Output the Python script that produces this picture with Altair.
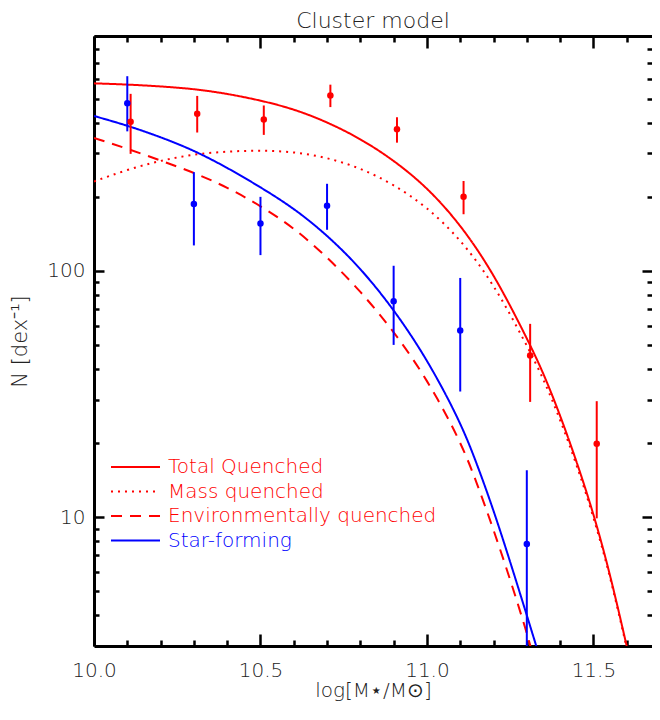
import altair as alt
import pandas as pd

# ---------------- data ----------------
models = ["Total Quenched", "Mass quenched", "Environmentally quenched", "Star-forming"]

tq_x = [10.0, 10.1, 10.2, 10.3, 10.4, 10.5, 10.6, 10.7, 10.8, 10.9, 11.0, 11.1, 11.2, 11.3, 11.35, 11.4, 11.45, 11.5, 11.55, 11.6]
tq_y = [578, 572, 562, 549, 525, 493, 455, 403, 345, 282, 219, 155, 98, 53.5, 38.5, 26, 16.8, 10.4, 5.9, 3.0]

mq_x = [10.0, 10.1, 10.2, 10.3, 10.4, 10.5, 10.6, 10.7, 10.8, 10.9, 11.0, 11.1, 11.2, 11.3, 11.35, 11.4, 11.45, 11.5, 11.55, 11.6]
mq_y = [231, 258, 281, 298, 306, 309, 305, 289, 262, 225, 182, 135, 89, 50, 36.5, 25, 16.3, 10.1, 5.8, 2.95]

eq_x = [10.0, 10.1, 10.2, 10.3, 10.4, 10.5, 10.6, 10.7, 10.8, 10.9, 11.0, 11.1, 11.15, 11.2, 11.25, 11.3, 11.32]
eq_y = [347, 314, 281, 251, 219, 184, 150, 114, 83, 57, 36.5, 20.5, 13.8, 8.9, 5.6, 3.4, 2.7]

sf_x = [10.0, 10.1, 10.2, 10.3, 10.4, 10.5, 10.6, 10.7, 10.8, 10.9, 11.0, 11.1, 11.15, 11.2, 11.25, 11.3, 11.33]
sf_y = [426, 390, 350, 309, 263, 219, 180, 140, 103, 70, 44, 24.5, 16.5, 10.7, 6.6, 4.0, 2.95]

red_x = [10.11, 10.31, 10.51, 10.71, 10.91, 11.11, 11.31, 11.51]
red_y = [404, 435, 412, 516, 376, 200, 45.4, 19.9]
red_lo = [299, 365, 357, 463, 332, 170, 29.4, 9.9]
red_hi = [524, 514, 470, 571, 421, 232, 61, 29.6]

blue_x = [10.10, 10.30, 10.50, 10.70, 10.90, 11.10, 11.30]
blue_y = [480, 187, 156, 184, 75.4, 57.3, 7.78]
blue_lo = [369, 127, 116, 147, 50.1, 32.4, 1.0]
blue_hi = [618, 252, 200, 226, 105, 93.7, 15.5]

x_labels = [10.0, 10.5, 11.0, 11.5]
x_minor = [10.1, 10.2, 10.3, 10.4, 10.6, 10.7, 10.8, 10.9, 11.1, 11.2, 11.3, 11.4, 11.6]
y_major = [10, 100]
y_minor = [4, 5, 6, 7, 8, 9, 20, 30, 40, 50, 60, 70, 80, 90, 200, 300, 400, 500, 600, 700, 800, 900]

# ---------------- tables ----------------
curves = pd.concat([
    pd.DataFrame({"x": tq_x, "y": tq_y, "model": models[0]}),
    pd.DataFrame({"x": mq_x, "y": mq_y, "model": models[1]}),
    pd.DataFrame({"x": eq_x, "y": eq_y, "model": models[2]}),
    pd.DataFrame({"x": sf_x, "y": sf_y, "model": models[3]}),
], ignore_index=True)
red = pd.DataFrame({"x": red_x, "y": red_y, "lo": red_lo, "hi": red_hi})
blue = pd.DataFrame({"x": blue_x, "y": blue_y, "lo": blue_lo, "hi": blue_hi})

FONT = "DejaVu Sans"
TXT = "#222222"
RED = "#ff0000"
BLUE = "#0000ff"

xs = alt.Scale(domain=[10.0, 11.676], nice=False, zero=False)
ys = alt.Scale(type="log", domain=[3, 900], nice=False)


def tick_axis(orient, values, size):
    return alt.Axis(orient=orient, values=values, ticks=True, tickSize=size, tickWidth=2.5,
                    tickColor="black", offset=-size, labels=False, domain=False, grid=False,
                    title=None)


x_main = alt.Axis(orient="bottom", values=x_labels, format=".1f", ticks=False, domain=True,
                  domainColor="black", domainWidth=3, grid=False, labelFont=FONT,
                  labelFontSize=20, labelFontWeight=200, labelColor=TXT, labelPadding=14,
                  labelFlush=False, labelOverlap=False, labelBound=False,
                  title="log[M⋆/M⊙]", titleFont=FONT, titleFontSize=20, titleFontWeight=200,
                  titleColor=TXT, titleBaseline="alphabetic", titleY=50)
y_main = alt.Axis(orient="left", values=y_major, format="d", ticks=False, domain=True,
                  domainColor="black", domainWidth=3, grid=False, labelFont=FONT,
                  labelFontSize=20, labelFontWeight=200, labelColor=TXT, labelPadding=9,
                  labelFlush=False, labelOverlap=False, labelBound=False,
                  title="N [dex⁻¹]", titleFont=FONT, titleFontSize=21, titleFontWeight=200,
                  titleColor=TXT, titlePadding=16)
x_top = alt.Axis(orient="top", ticks=False, labels=False, domain=True, domainColor="black",
                 domainWidth=3, grid=False, title=None)

leg = alt.Legend(orient="none", legendX=16, legendY=421, title=None, symbolType="stroke",
                 symbolSize=2401, symbolStrokeWidth=2, symbolOffset=0, clipHeight=20,
                 labelFont=FONT, labelFontSize=20, labelFontWeight=200, labelOffset=7,
                 labelColor=alt.ExprRef("datum.label == 'Star-forming' ? '#0000ff' : '#ff0000'"),
                 rowPadding=4.5, padding=0, labelLimit=400)

lines = alt.Chart(curves).mark_line(clip=True, strokeWidth=2, interpolate="basis").encode(
    x=alt.X("x:Q", scale=xs, axis=x_main),
    y=alt.Y("y:Q", scale=ys, axis=y_main),
    color=alt.Color("model:N", sort=models,
                    scale=alt.Scale(domain=models, range=[RED, RED, RED, BLUE]), legend=leg),
    strokeDash=alt.StrokeDash("model:N", sort=models,
                              scale=alt.Scale(domain=models, range=[[1, 0], [2, 5], [11, 8], [1, 0]]),
                              legend=leg),
)

red_bars = alt.Chart(red).mark_rule(clip=True, strokeWidth=2, color=RED).encode(
    x=alt.X("x:Q", scale=xs, axis=x_top),
    y=alt.Y("lo:Q", scale=ys, axis=None),
    y2="hi:Q",
)
blue_bars = alt.Chart(blue).mark_rule(clip=True, strokeWidth=2, color=BLUE).encode(
    x=alt.X("x:Q", scale=xs, axis=tick_axis("bottom", x_labels, 12)),
    y=alt.Y("lo:Q", scale=ys, axis=tick_axis("left", y_major, 10)),
    y2="hi:Q",
)
red_pts = alt.Chart(red).mark_circle(clip=True, size=42, opacity=1, color=RED).encode(
    x=alt.X("x:Q", scale=xs, axis=tick_axis("bottom", x_minor, 6)),
    y=alt.Y("y:Q", scale=ys, axis=tick_axis("left", y_minor, 5)),
)
blue_pts = alt.Chart(blue).mark_circle(clip=True, size=42, opacity=1, color=BLUE).encode(
    x=alt.X("x:Q", scale=xs, axis=tick_axis("top", x_labels, 12)),
    y=alt.Y("y:Q", scale=ys, axis=tick_axis("right", y_major, 10)),
)
dummy = alt.Chart(red).mark_point(clip=True, opacity=0).encode(
    x=alt.X("x:Q", scale=xs, axis=tick_axis("top", x_minor, 6)),
    y=alt.Y("y:Q", scale=ys, axis=tick_axis("right", y_minor, 5)),
)

chart = alt.layer(lines, red_bars, blue_bars, red_pts, blue_pts, dummy).resolve_axis(
    x="independent", y="independent"
).properties(
    width=558, height=610,
    padding={"left": 86, "top": 28, "right": 0, "bottom": 56},
    autosize=alt.AutoSizeParams(type="none"),
    title=alt.Title("Cluster model", font=FONT, fontSize=22, fontWeight=200, color=TXT,
                    anchor="middle", offset=2),
).configure_view(stroke=None, strokeWidth=0, strokeOpacity=0)

chart.save("out.html", embed_options={"renderer": "svg", "actions": False})
